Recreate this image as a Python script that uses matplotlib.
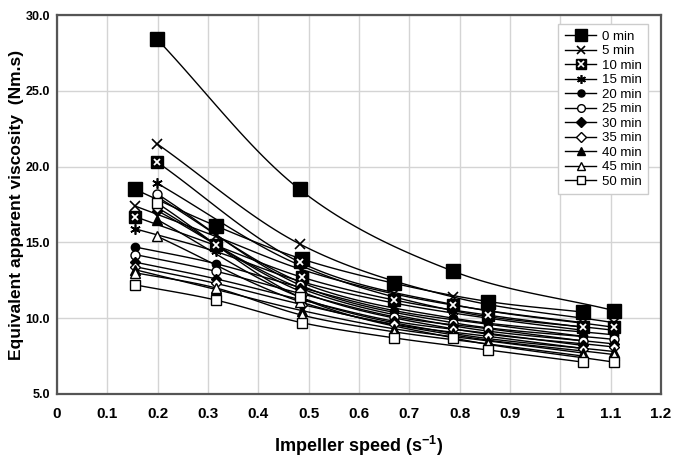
import numpy as np
import matplotlib
matplotlib.use("Agg")
import matplotlib.pyplot as plt
from matplotlib.lines import Line2D

# ---------------- data ----------------
times = ["0 min", "5 min", "10 min", "15 min", "20 min", "25 min",
         "30 min", "35 min", "40 min", "45 min", "50 min"]

# first group of measurements (impeller speed, s^-1)
speed_a = [0.155, 0.315, 0.487, 0.67, 0.857, 1.046]
# second group of measurements
speed_b = [0.199, 0.482, 0.787, 1.107]

visc_a = [
    [18.5, 16.1, 13.9, 12.3, 11.1, 10.4],   # 0
    [17.4, 15.4, 13.2, 11.6, 10.5, 9.7],    # 5
    [16.7, 14.8, 12.7, 11.2, 10.2, 9.4],    # 10
    [15.9, 14.4, 12.4, 11.0, 10.0, 9.2],    # 15
    [14.7, 13.6, 12.0, 10.5, 9.6, 8.8],     # 20
    [14.2, 13.1, 11.6, 10.1, 9.3, 8.5],     # 25
    [13.7, 12.6, 11.2, 9.8, 9.0, 8.2],      # 30
    [13.4, 12.3, 10.9, 9.6, 8.8, 8.0],      # 35
    [13.2, 11.9, 10.5, 9.3, 8.5, 7.7],      # 40
    [13.0, 12.0, 10.2, 9.1, 8.3, 7.5],      # 45
    [12.2, 11.2, 9.7, 8.7, 7.9, 7.1],       # 50
]

visc_b = [
    [28.4, 18.5, 13.1, 10.5],   # 0
    [21.5, 14.9, 11.4, 9.7],    # 5
    [20.3, 13.7, 10.9, 9.4],    # 10
    [18.9, 13.5, 10.5, 9.2],    # 15
    [18.0, 12.4, 10.0, 8.9],    # 20
    [18.2, 12.2, 9.7, 8.6],     # 25
    [17.1, 12.0, 9.5, 8.3],     # 30
    [17.3, 11.8, 9.3, 8.1],     # 35
    [16.5, 11.4, 9.0, 7.8],     # 40
    [15.4, 11.1, 8.9, 7.6],     # 45
    [17.6, 11.4, 8.7, 7.1],     # 50
]

x_ticks = [0, 0.1, 0.2, 0.3, 0.4, 0.5, 0.6, 0.7, 0.8, 0.9, 1.0, 1.1, 1.2]
x_ticklabels = ["0", "0.1", "0.2", "0.3", "0.4", "0.5", "0.6", "0.7",
                "0.8", "0.9", "1", "1.1", "1.2"]
y_ticks = [5, 10, 15, 20, 25, 30]

# ---------------- styles ----------------
FONT = ["Liberation Sans", "DejaVu Sans"]
plt.rcParams["font.family"] = FONT

star = (6, 2, 0)
styles = [
    dict(marker="s", ms=9.5, mfc="black", mec="black"),
    dict(marker="x", ms=7, mfc="black", mec="black", mew=1.2),
    dict(marker="s", ms=8, mfc="black", mec="black"),
    dict(marker=star, ms=7.5, mfc="black", mec="black", mew=1.2),
    dict(marker="o", ms=6, mfc="black", mec="black"),
    dict(marker="o", ms=6.5, mfc="white", mec="black", mew=1.0),
    dict(marker="D", ms=5.5, mfc="black", mec="black"),
    dict(marker="D", ms=5.5, mfc="white", mec="black", mew=1.0),
    dict(marker="^", ms=6.5, mfc="black", mec="black"),
    dict(marker="^", ms=6.5, mfc="white", mec="black", mew=1.0),
    dict(marker="s", ms=7.5, mfc="white", mec="black", mew=1.0),
]


def smooth(x, y, n=24):
    """Bezier smoothing through the points (spreadsheet 'smoothed line')."""
    x = np.asarray(x, float)
    y = np.asarray(y, float)
    if len(x) < 3:
        return x, y
    px = np.concatenate([[2 * x[0] - x[1]], x, [2 * x[-1] - x[-2]]])
    py = np.concatenate([[2 * y[0] - y[1]], y, [2 * y[-1] - y[-2]]])
    xs, ys = [], []
    t = np.linspace(0, 1, n, endpoint=False)
    for i in range(1, len(px) - 2):
        p0x, p1x, p2x, p3x = px[i - 1:i + 3]
        p0y, p1y, p2y, p3y = py[i - 1:i + 3]
        c1x = p1x + (p2x - p0x) / 6
        c1y = p1y + (p2y - p0y) / 6
        c2x = p2x - (p3x - p1x) / 6
        c2y = p2y - (p3y - p1y) / 6
        b0 = (1 - t) ** 3
        b1 = 3 * (1 - t) ** 2 * t
        b2 = 3 * (1 - t) * t ** 2
        b3 = t ** 3
        xs.append(b0 * p1x + b1 * c1x + b2 * c2x + b3 * p2x)
        ys.append(b0 * p1y + b1 * c1y + b2 * c2y + b3 * p2y)
    xs.append([x[-1]])
    ys.append([y[-1]])
    return np.concatenate(xs), np.concatenate(ys)


fig = plt.figure(figsize=(6.76, 4.66), dpi=100)
ax = fig.add_axes([57 / 676, 1 - 394 / 466, (661 - 57) / 676, (394 - 15) / 466])

handles = []
for i, name in enumerate(times):
    st = styles[i]
    for xs_, ys_ in ((speed_a, visc_a[i]), (speed_b, visc_b[i])):
        sx, sy = smooth(xs_, ys_)
        ax.plot(sx, sy, color="black", lw=1.0, zorder=2)
        ax.plot(xs_, ys_, ls="none", marker=st["marker"], ms=st["ms"],
                mfc=st["mfc"], mec=st["mec"], mew=st.get("mew", 1.0), zorder=3)
        if i == 2:
            ax.plot(xs_, ys_, ls="none", marker="x", ms=5, mec="white",
                    mew=1.3, zorder=4)
    lms = st["ms"] * 0.85
    h = Line2D([], [], color="black", lw=1.0, marker=st["marker"],
               ms=lms, mfc=st["mfc"], mec=st["mec"], mew=st.get("mew", 1.0))
    if i == 2:
        h2 = Line2D([], [], ls="none", marker="x", ms=4.5, mec="white", mew=1.2)
        handles.append((h, h2))
    else:
        handles.append(h)

ax.set_xlim(0, 1.2)
ax.set_ylim(5, 30)
ax.set_xticks(x_ticks)
ax.set_xticklabels(x_ticklabels)
ax.set_yticks(y_ticks)
ax.set_yticklabels([f"{v:.1f}" for v in y_ticks])
ax.grid(True, color="#d4d4d4", lw=1.0)
ax.set_axisbelow(True)
ax.tick_params(axis="x", length=0, pad=9)
ax.tick_params(axis="y", length=0, pad=5)
for lab in ax.get_xticklabels():
    lab.set_fontsize(11)
    lab.set_fontweight("bold")
for lab in ax.get_yticklabels():
    lab.set_fontsize(9)
    lab.set_fontweight("bold")
for s in ax.spines.values():
    s.set_color("#555555")
    s.set_linewidth(1.6)

ax.set_xlabel("Impeller speed (s$^{\\mathregular{-1}}$)", fontsize=13,
              fontweight="bold", labelpad=10)
ax.set_ylabel("Equivalent apparent viscosity  (Nm.s)", fontsize=12.5,
              fontweight="bold")
ax.yaxis.set_label_coords(-0.055, 0.5)

leg = ax.legend(handles, times, loc="upper right", bbox_to_anchor=(0.983, 0.983),
                fontsize=9.5, frameon=True, fancybox=False, edgecolor="#cccccc",
                handlelength=2.4, labelspacing=0.17, borderpad=0.5,
                handletextpad=0.4, framealpha=1, borderaxespad=0.2)
leg.get_frame().set_linewidth(1.0)

fig.savefig("out.png", dpi=100)
